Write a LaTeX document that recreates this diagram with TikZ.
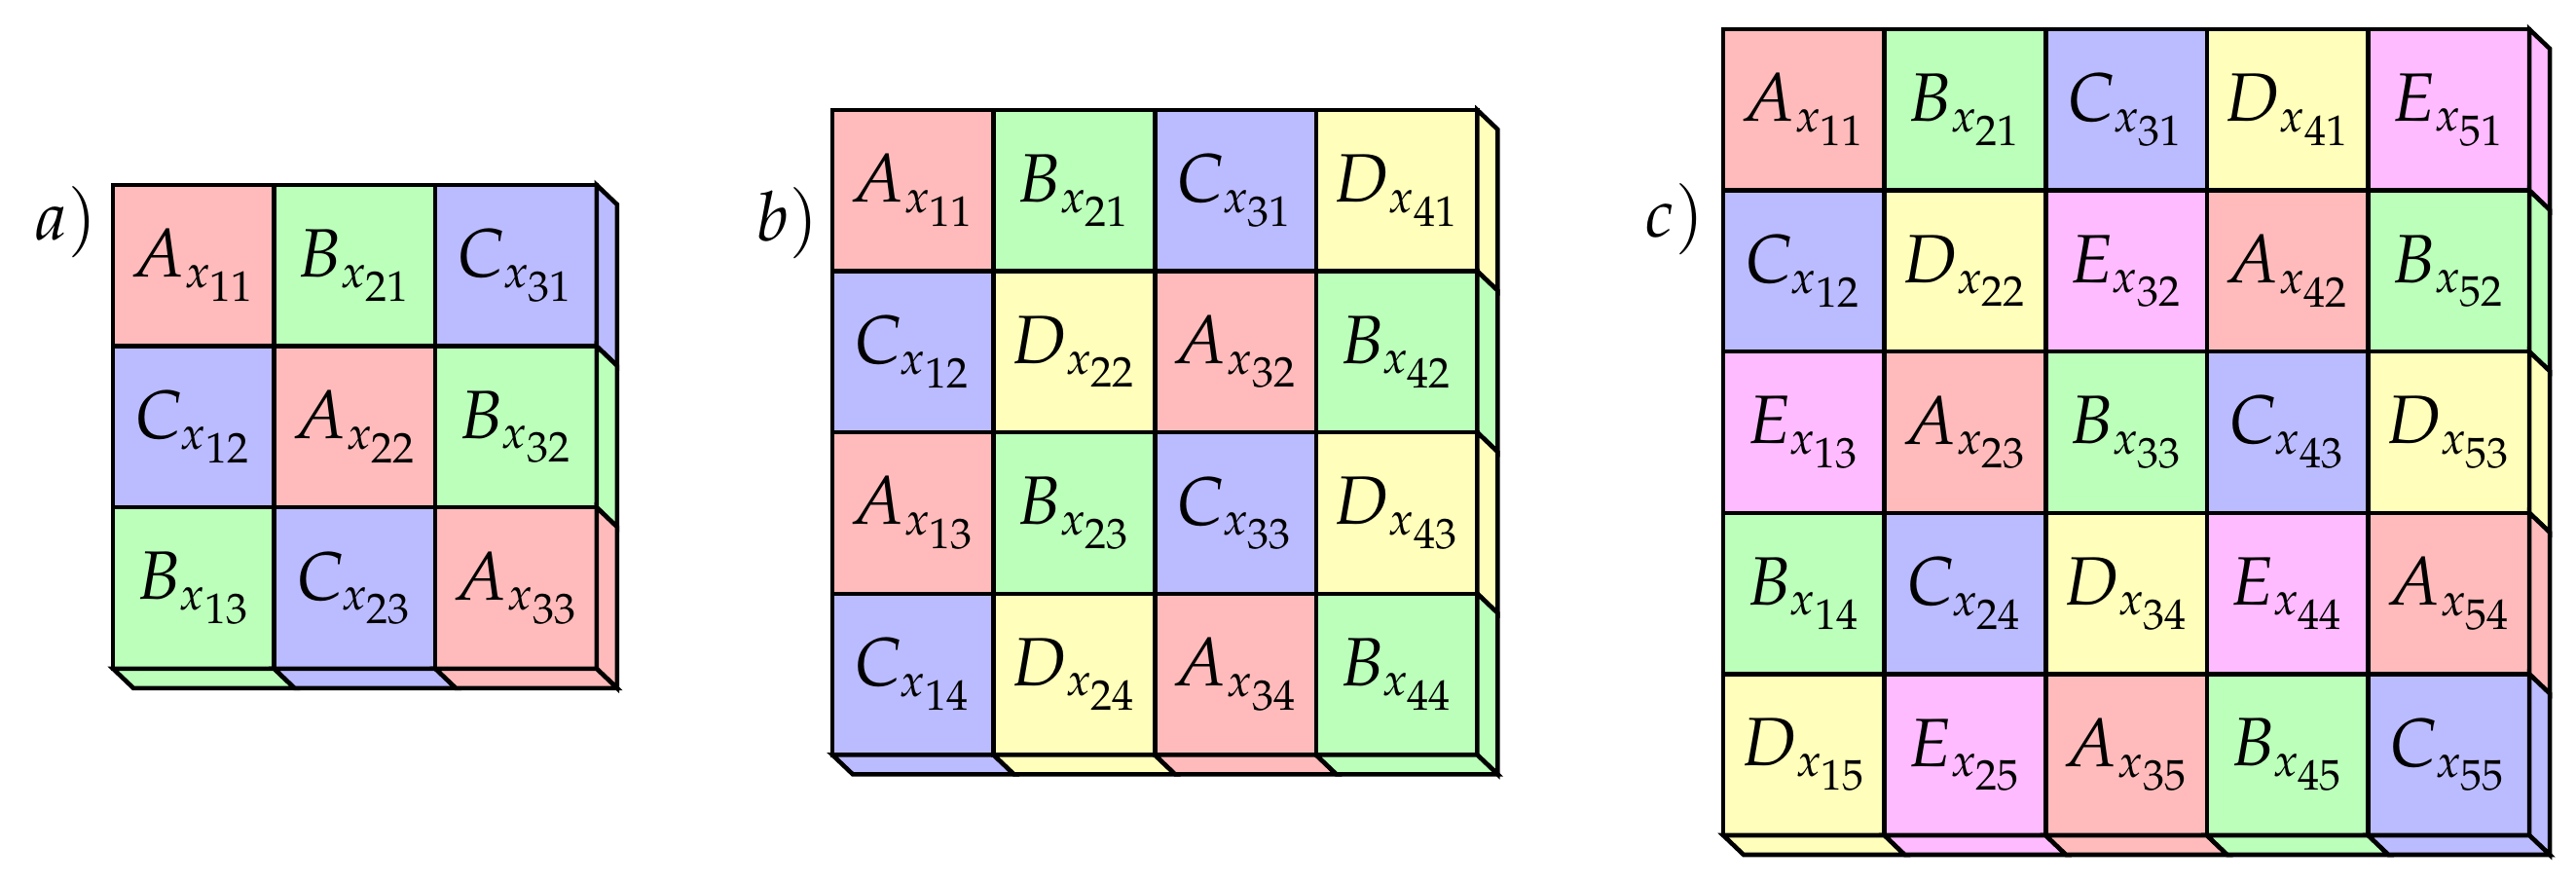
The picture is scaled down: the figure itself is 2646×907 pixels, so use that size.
\documentclass[tikz,border=0pt]{standalone}
\usepackage{mathpazo}
\DeclareMathSizes{20}{20}{13.5}{12.5}
\definecolor{cA}{RGB}{255,187,187}
\definecolor{cB}{RGB}{187,255,187}
\definecolor{cC}{RGB}{187,187,255}
\definecolor{cD}{RGB}{255,255,187}
\definecolor{cE}{RGB}{255,187,255}
\def\cellsz{165.6}
\def\depx{21}
\def\depy{20}
\newcommand\mkgrid[5]{%
  \foreach \lt [count=\k from 0] in {#5} {
    \pgfmathtruncatemacro\cc{mod(\k,#4)}
    \pgfmathtruncatemacro\rr{div(\k,#4)}
    \pgfmathtruncatemacro\ii{\cc+1}
    \pgfmathtruncatemacro\jj{\rr+1}
    \pgfmathtruncatemacro\lastidx{#4-1}
    \node[cell, fill=c\lt] (#1-\ii-\jj) at ({#2+(\cc+0.5)*\cellsz},{#3+(\rr+0.5)*\cellsz}) {$\lt_{x_{\ii\jj}}$};
    \ifnum\cc=\lastidx
      \draw[face, fill=c\lt] (#1-\ii-\jj.north east) -- ++(\depx,\depy) -- ++(0,\cellsz) -- (#1-\ii-\jj.south east) -- cycle;
    \fi
    \ifnum\rr=\lastidx
      \draw[face, fill=c\lt] (#1-\ii-\jj.south west) -- ++(\depx,\depy) -- ++(\cellsz,0) -- (#1-\ii-\jj.south east) -- cycle;
    \fi
  }}
\begin{document}
\begin{tikzpicture}[x=0.01cm,y=-0.01cm,line width=1.3pt,
  font=\fontsize{20}{24}\selectfont,
  cell/.style={draw, rectangle, minimum width=\cellsz*0.01cm, minimum height=\cellsz*0.01cm, inner sep=0pt, outer sep=0pt},
  face/.style={draw, line join=miter},
  panellabel/.style={inner sep=0pt}]
\useasboundingbox (0,0) rectangle (2646,907);
\node[panellabel] (la) at (68,228) {$a)$};
\node[panellabel] (lb) at (809,229) {$b)$};
\node[panellabel] (lc) at (1720,225) {$c)$};
\mkgrid{ga}{116}{190}{3}{A,B,C,C,A,B,B,C,A}
\mkgrid{gb}{855}{113}{4}{A,B,C,D,C,D,A,B,A,B,C,D,C,D,A,B}
\mkgrid{gc}{1770}{30}{5}{A,B,C,D,E,C,D,E,A,B,E,A,B,C,D,B,C,D,E,A,D,E,A,B,C}
\end{tikzpicture}
\end{document}
